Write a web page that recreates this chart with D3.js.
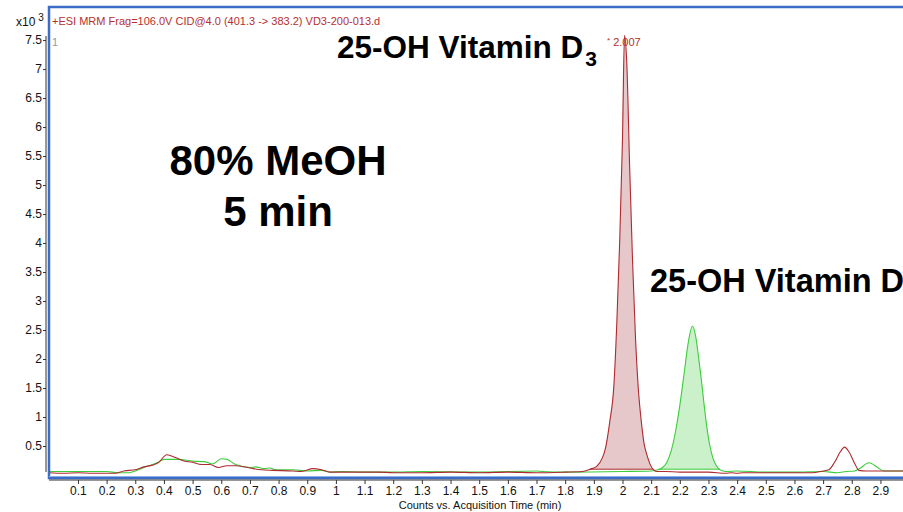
<!DOCTYPE html>
<html>
<head>
<meta charset="utf-8">
<script src="https://cdn.jsdelivr.net/npm/d3@7"></script>
<style>
  html, body { margin: 0; padding: 0; background: #fff; }
  svg { display: block; font-family: "Liberation Sans", Arial, sans-serif; }
</style>
</head>
<body>
<svg id="chart" width="903" height="512"></svg>
<script>
// MRM chromatogram, 25-OH vitamin D3 (red) and D2 (green); intensity in counts x10^3
const d3Time = [0.00, 0.05, 0.10, 0.15, 0.20, 0.23, 0.26, 0.30, 0.33, 0.36, 0.38, 0.41, 0.44, 0.47, 0.50, 0.53, 0.56, 0.59, 0.62, 0.65, 0.70, 0.74, 0.78, 0.85, 0.88, 0.92, 0.95, 0.98, 1.05, 1.15, 1.20, 1.30, 1.40, 1.50, 1.60, 1.70, 1.80, 1.86,
  1.887, 1.91, 1.93, 1.94, 1.955, 1.97, 1.98, 1.99, 2.00, 2.007, 2.015, 2.025, 2.035, 2.045, 2.055, 2.065, 2.075, 2.085, 2.095, 2.106,
  2.12, 2.15, 2.20, 2.30, 2.36, 2.38, 2.40, 2.42, 2.50, 2.60, 2.66, 2.70, 2.72, 2.74, 2.76, 2.775, 2.79, 2.81, 2.825, 2.85, 3.00];
const d3Counts = [0.04, 0.03, 0.04, 0.03, 0.03, 0.03, 0.07, 0.09, 0.14, 0.17, 0.21, 0.35, 0.30, 0.24, 0.22, 0.18, 0.18, 0.13, 0.16, 0.16, 0.12, 0.09, 0.08, 0.07, 0.06, 0.11, 0.09, 0.05, 0.05, 0.05, 0.04, 0.04, 0.05, 0.04, 0.05, 0.04, 0.05, 0.06,
  0.10, 0.15, 0.30, 0.45, 0.90, 1.55, 2.60, 4.00, 5.80, 7.58, 7.10, 5.30, 3.70, 2.40, 1.50, 0.95, 0.55, 0.35, 0.20, 0.10,
  0.06, 0.06, 0.05, 0.05, 0.03, 0.04, 0.03, 0.04, 0.04, 0.04, 0.04, 0.07, 0.09, 0.22, 0.40, 0.48, 0.40, 0.20, 0.08, 0.07, 0.07];

const d2Time = [0.00, 0.05, 0.10, 0.20, 0.24, 0.28, 0.30, 0.33, 0.36, 0.38, 0.40, 0.45, 0.50, 0.54, 0.57, 0.60, 0.62, 0.65, 0.70, 0.72, 0.75, 0.77, 0.79, 0.85, 0.90, 0.95, 0.98, 1.02, 1.10, 1.15, 1.20, 1.30, 1.50, 1.70, 1.72, 1.80, 2.00, 2.10,
  2.124, 2.14, 2.155, 2.17, 2.185, 2.20, 2.215, 2.23, 2.244, 2.255, 2.265, 2.275, 2.285, 2.295, 2.305, 2.315, 2.325, 2.340,
  2.36, 2.40, 2.50, 2.60, 2.70, 2.75, 2.78, 2.81, 2.83, 2.86, 2.89, 2.91, 3.00];
const d2Counts = [0.06, 0.06, 0.06, 0.06, 0.04, 0.04, 0.07, 0.13, 0.18, 0.22, 0.27, 0.27, 0.24, 0.23, 0.19, 0.28, 0.27, 0.18, 0.13, 0.14, 0.11, 0.12, 0.09, 0.09, 0.07, 0.08, 0.05, 0.06, 0.05, 0.05, 0.05, 0.06, 0.05, 0.07, 0.06, 0.05, 0.06, 0.07,
  0.09, 0.13, 0.22, 0.42, 0.75, 1.20, 1.75, 2.30, 2.57, 2.40, 2.05, 1.65, 1.20, 0.80, 0.50, 0.30, 0.18, 0.09,
  0.06, 0.07, 0.05, 0.05, 0.06, 0.04, 0.06, 0.07, 0.12, 0.21, 0.13, 0.07, 0.07];

// integrated peak windows [start, end, baseline]
const d3Peak = [1.887, 2.106, 0.10];
const d2Peak = [2.124, 2.340, 0.10];

const xTicks = [0.1, 0.2, 0.3, 0.4, 0.5, 0.6, 0.7, 0.8, 0.9, 1, 1.1, 1.2, 1.3, 1.4, 1.5, 1.6, 1.7, 1.8, 1.9, 2, 2.1, 2.2, 2.3, 2.4, 2.5, 2.6, 2.7, 2.8, 2.9];
const yTicks = [0.5, 1, 1.5, 2, 2.5, 3, 3.5, 4, 4.5, 5, 5.5, 6, 6.5, 7, 7.5];

const svg = d3.select("#chart");
const x = d3.scaleLinear().domain([0, 3.0]).range([49.3, 909.1]);
const y = d3.scaleLinear().domain([0, 8.07]).range([475, 7]);

const red = "#ad2a2e", green = "#3ccc3c";

svg.append("rect").attr("width", 903).attr("height", 512).attr("fill", "#fff");

svg.append("defs").append("clipPath").attr("id", "plot")
  .append("rect").attr("x", 49).attr("y", 7).attr("width", 860).attr("height", 470);

const plot = svg.append("g").attr("clip-path", "url(#plot)");

const red_pts = d3Time.map((t, i) => [t, d3Counts[i]]);
const green_pts = d2Time.map((t, i) => [t, d2Counts[i]]);

const line = d3.line().x(d => x(d[0])).y(d => y(d[1])).curve(d3.curveMonotoneX);

function peakArea(pts, win) {
  const seg = pts.filter(d => d[0] >= win[0] - 1e-9 && d[0] <= win[1] + 1e-9);
  return d3.area().x(d => x(d[0])).y0(y(win[2])).y1(d => y(d[1])).curve(d3.curveMonotoneX)(seg);
}

plot.append("path").attr("d", peakArea(red_pts, d3Peak)).attr("fill", "#e6c8ca");
plot.append("path").attr("d", peakArea(green_pts, d2Peak)).attr("fill", "#cbf1cb");

// baselines under the integrated peaks
plot.append("line").attr("x1", x(d3Peak[0])).attr("x2", x(d3Peak[1]))
  .attr("y1", y(d3Peak[2])).attr("y2", y(d3Peak[2])).attr("stroke", red).attr("stroke-width", 1);
plot.append("line").attr("x1", x(d2Peak[0])).attr("x2", x(d2Peak[1]))
  .attr("y1", y(d2Peak[2])).attr("y2", y(d2Peak[2])).attr("stroke", green).attr("stroke-width", 1);

plot.append("path").attr("d", line(green_pts)).attr("fill", "none").attr("stroke", green).attr("stroke-width", 1.1);
plot.append("path").attr("d", line(red_pts)).attr("fill", "none").attr("stroke", red).attr("stroke-width", 1.1);

// frame
svg.append("rect").attr("x", 49).attr("y", 7).attr("width", 900).attr("height", 471)
  .attr("fill", "none").attr("stroke", "#3a6cc8").attr("stroke-width", 2.5);
svg.append("line").attr("x1", 49).attr("x2", 903).attr("y1", 476.5).attr("y2", 476.5)
  .attr("stroke", "#8fb0e6").attr("stroke-width", 1);

// y axis
const yAxis = svg.append("g").attr("transform", "translate(46,0)")
  .call(d3.axisLeft(y).tickValues(yTicks).tickSize(3).tickFormat(d => String(d)));
yAxis.select(".domain").remove();
yAxis.append("line").attr("x1", 0).attr("x2", 0).attr("y1", 36).attr("y2", 472).attr("stroke", "#333");
yAxis.selectAll(".tick line").attr("stroke", "#333");
yAxis.selectAll(".tick text").attr("font-size", 12).attr("fill", "#111")
  .attr("font-family", "Liberation Sans, Arial, sans-serif").attr("x", -4);

// x axis
const xAxis = svg.append("g").attr("transform", "translate(0,480)")
  .call(d3.axisBottom(x).tickValues(xTicks).tickSize(4).tickFormat(d => String(d)));
xAxis.select(".domain").remove();
xAxis.append("line").attr("x1", 49).attr("x2", 903).attr("y1", 0).attr("y2", 0).attr("stroke", "#333");
xAxis.selectAll(".tick line").attr("stroke", "#333");
xAxis.selectAll(".tick text").attr("font-size", 12).attr("fill", "#111")
  .attr("font-family", "Liberation Sans, Arial, sans-serif").attr("y", 6);

svg.append("text").attr("x", 480).attr("y", 509).attr("text-anchor", "middle")
  .attr("font-size", 11).attr("fill", "#111").text("Counts vs. Acquisition Time (min)");

// scale factor
const sf = svg.append("text").attr("x", 16).attr("y", 26).attr("font-size", 12).attr("fill", "#111");
sf.append("tspan").text("x10");
sf.append("tspan").attr("dx", 3).attr("dy", -5).attr("font-size", 10).text("3");

// trace header
svg.append("text").attr("x", 52).attr("y", 25).attr("font-size", 11).attr("fill", "#b5302f")
  .text("+ESI MRM Frag=106.0V CID@4.0 (401.3 -> 383.2) VD3-200-013.d");
svg.append("text").attr("x", 52).attr("y", 46).attr("font-size", 11).attr("fill", "#999").text("1");

// apex label
const apex = svg.append("text").attr("x", 607).attr("y", 46).attr("font-size", 11).attr("fill", "#b5302f");
apex.append("tspan").attr("font-size", 8).attr("dy", -3).text("*");
apex.append("tspan").attr("dx", 3).attr("dy", 3).text("2.007");

// annotations
function boldText(xp, yp, size, anchor) {
  return svg.append("text").attr("x", xp).attr("y", yp).attr("font-size", size)
    .attr("font-weight", "bold").attr("fill", "#000").attr("text-anchor", anchor || "start");
}
boldText(278, 175, 42, "middle").text("80% MeOH");
boldText(278, 226, 42, "middle").text("5 min");

const t3 = boldText(337, 58, 31.5);
t3.append("tspan").text("25-OH Vitamin D");
t3.append("tspan").attr("font-size", 21).attr("dx", 2).attr("dy", 8).text("3");

// this label runs past the right edge of the plot
const t2 = boldText(650, 292, 32.5);
t2.append("tspan").text("25-OH Vitamin D");
t2.append("tspan").attr("font-size", 21).attr("dx", 2).attr("dy", 8).text("2");
</script>
</body>
</html>
